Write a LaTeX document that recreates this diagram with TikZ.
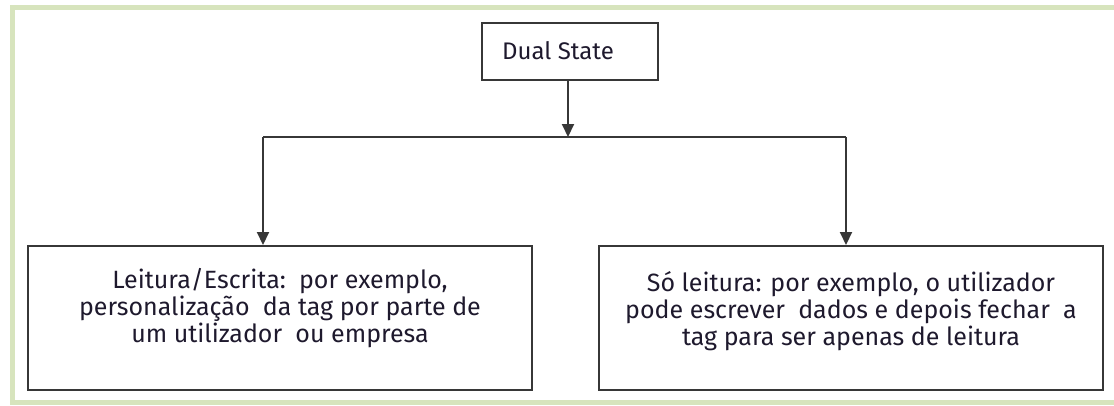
\documentclass[tikz,border=0pt]{standalone}
\usepackage{fontspec}
\setmainfont{Fira Sans}
\usetikzlibrary{arrows.meta}
\definecolor{framegreen}{RGB}{215,228,189}
\definecolor{boxline}{RGB}{55,55,55}
\definecolor{txt}{RGB}{30,25,45}
\tikzset{
  box/.style={draw=boxline, line width=2pt, rectangle, inner sep=0pt},
  conn/.style={draw=boxline, line width=2pt},
  arr/.style={conn, -{Triangle[width=12pt,length=13pt]}},
  lbl/.style={text=txt, font=\fontsize{25}{27}\selectfont, align=center, inner sep=0pt}
}
\begin{document}
\begin{tikzpicture}[x=1pt,y=-1pt]
\useasboundingbox (0,0) rectangle (1114,405);
\begin{scope}
\clip (0,0) rectangle (1114,405);
\draw[framegreen, line width=5pt] (12.5,7.5) rectangle (1130,402);
\end{scope}
% boxes
\node[box, minimum width=176pt, minimum height=57pt] (top) at (570,51.5) {};
\node[box, minimum width=504pt, minimum height=144pt] (l) at (280,318) {};
\node[box, minimum width=504pt, minimum height=144pt] (r) at (851,318) {};
% texts
\node[lbl, font=\fontsize{24}{27}\selectfont, anchor=base west] (topt) at (502,59) {Dual State};
\node[lbl, anchor=base] (lt) at (280,342) {Leitura/Escrita:\ \ por exemplo,\\personalização\ \ da tag por parte de\\um utilizador\ \ ou empresa};
\node[lbl, anchor=base] (rt) at (851,345) {Só leitura: por exemplo, o utilizador\\pode escrever\ \ dados e depois fechar\ \ a\\tag para ser apenas de leitura};
% connectors
\coordinate (bus) at (568,137);
\coordinate (bl) at (263,137);
\coordinate (br) at (846,137);
\draw[arr] (top.south -| bus) -- (bus);
\draw[conn] (bl) -- (br);
\draw[arr] (bl) -- (bl |- l.north);
\draw[arr] (br) -- (br |- r.north);
\end{tikzpicture}
\end{document}
